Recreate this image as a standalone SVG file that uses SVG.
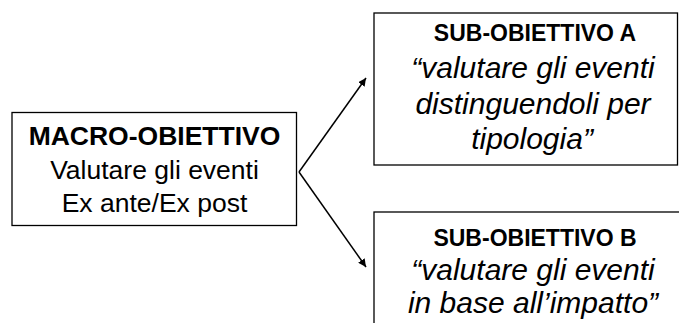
<svg xmlns="http://www.w3.org/2000/svg" width="679" height="323" viewBox="0 0 679 323">
<style>
.box{fill:#fff;stroke:#000;stroke-width:1.3}
.t{font-family:"Liberation Sans",Arial,sans-serif;fill:#000;text-anchor:middle}
.b{font-weight:bold}
.i{font-style:italic}
.conn{stroke:#000;stroke-width:1.5;fill:none}
</style>
<defs>
<marker id="ah" viewBox="0 0 10 10" refX="10" refY="5" markerWidth="8" markerHeight="8" markerUnits="userSpaceOnUse" orient="auto">
<path d="M0,0 L10,5 L0,10 z" fill="#000"/>
</marker>
</defs>
<rect width="679" height="323" fill="#fff"/>
<g id="connectors">
<line class="conn" x1="299" y1="172" x2="366" y2="78" marker-end="url(#ah)"/>
<line class="conn" x1="299" y1="172" x2="366" y2="267" marker-end="url(#ah)"/>
</g>
<g id="macro">
<rect class="box" x="12" y="112.5" width="284.5" height="113"/>
<text class="t b" x="154.5" y="145" font-size="26.5">MACRO-OBIETTIVO</text>
<text class="t" x="154.5" y="179" font-size="26.5">Valutare gli eventi</text>
<text class="t" x="154.5" y="212" font-size="26.5">Ex ante/Ex post</text>
</g>
<g id="subA">
<rect class="box" x="374" y="13" width="303.5" height="152"/>
<text class="t b" x="535" y="41" font-size="23">SUB-OBIETTIVO A</text>
<text class="t i" x="533" y="78" font-size="30">“valutare gli eventi</text>
<text class="t i" x="533" y="114" font-size="30">distinguendoli per</text>
<text class="t i" x="532" y="149" font-size="30">tipologia”</text>
</g>
<g id="subB">
<rect class="box" x="374" y="212" width="310" height="120"/>
<text class="t b" x="535" y="246" font-size="23">SUB-OBIETTIVO B</text>
<text class="t i" x="533" y="280" font-size="30">“valutare gli eventi</text>
<text class="t i" x="533" y="313" font-size="30">in base all’impatto”</text>
</g>
</svg>
